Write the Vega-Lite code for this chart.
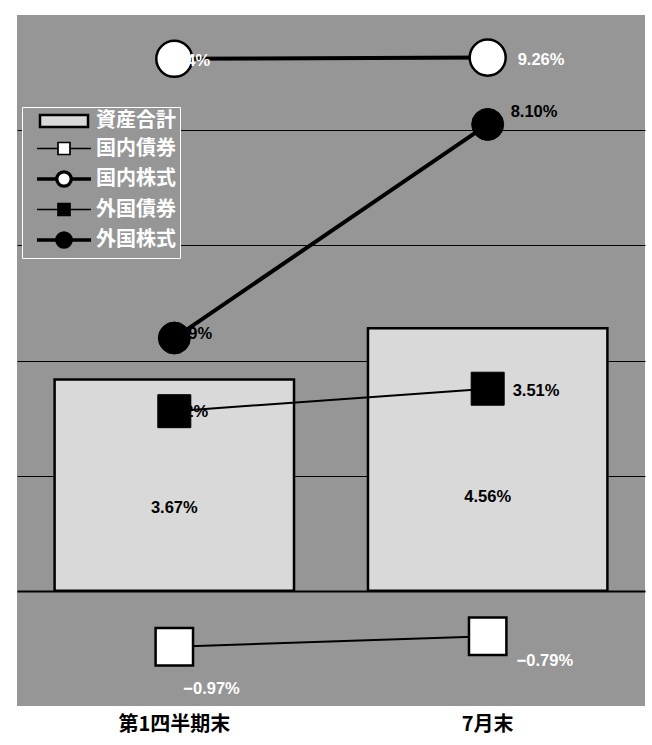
{
  "$schema": "https://vega.github.io/schema/vega-lite/v6.json",
  "width": 628,
  "height": 691,
  "autosize": "none",
  "padding": {"left": 17, "top": 15, "right": 7, "bottom": 39},
  "background": "white",
  "config": {
    "view": {"fill": "#969696", "stroke": null},
    "text": {"font": "Liberation Sans, Arial, sans-serif", "fontSize": 16.5, "fontWeight": "bold", "baseline": "middle", "align": "left"},
    "legend": {
      "orient": "none",
      "legendX": 5,
      "legendY": 92,
      "fillColor": "#969696",
      "strokeColor": "white",
      "padding": 4,
      "symbolSize": 144,
      "symbolOffset": 28,
      "labelOffset": 22,
      "labelFont": "Noto Sans CJK JP",
      "labelFontSize": 20,
      "labelFontWeight": "bold",
      "labelColor": "white",
      "labelLimit": 0,
      "rowPadding": 6.5
    }
  },
  "data": {
    "values": [
      {"cat": "第1四半期末", "series": "資産合計", "value": 3.67, "label": "3.67%"},
      {"cat": "7月末", "series": "資産合計", "value": 4.56, "label": "4.56%"},
      {"cat": "第1四半期末", "series": "国内債券", "value": -0.97, "label": "−0.97%"},
      {"cat": "7月末", "series": "国内債券", "value": -0.79, "label": "−0.79%"},
      {"cat": "第1四半期末", "series": "国内株式", "value": 9.24, "label": "9.24%"},
      {"cat": "7月末", "series": "国内株式", "value": 9.26, "label": "9.26%"},
      {"cat": "第1四半期末", "series": "外国債券", "value": 3.12, "label": "3.12%"},
      {"cat": "7月末", "series": "外国債券", "value": 3.51, "label": "3.51%"},
      {"cat": "第1四半期末", "series": "外国株式", "value": 4.39, "label": "4.39%"},
      {"cat": "7月末", "series": "外国株式", "value": 8.10, "label": "8.10%"}
    ]
  },
  "encoding": {
    "x": {
      "field": "cat",
      "type": "nominal",
      "scale": {"domain": ["第1四半期末", "7月末"], "paddingInner": 0.236, "paddingOuter": 0.12},
      "axis": {"title": null, "domain": false, "ticks": false, "labelAngle": 0, "labelFont": "Noto Sans CJK JP", "labelFontSize": 20, "labelFontWeight": "bold", "labelColor": "black", "labelPadding": 8}
    },
    "y": {
      "field": "value",
      "type": "quantitative",
      "scale": {"domain": [-2, 10], "nice": false},
      "axis": {"title": null, "labels": false, "ticks": false, "domain": false, "values": [0, 2, 4, 6, 8], "grid": true, "gridColor": "black", "gridOpacity": 1, "gridWidth": {"condition": {"test": "datum.value === 0", "value": 2}, "value": 1}}
    }
  },
  "layer": [
    {
      "transform": [{"filter": "datum.series == '資産合計'"}],
      "mark": {"type": "bar", "fill": "#d9d9d9", "stroke": "black", "strokeWidth": 2.5}
    },
    {
      "transform": [{"filter": "datum.series == '国内債券' || datum.series == '外国債券'"}],
      "mark": {"type": "line", "color": "black", "strokeWidth": 2},
      "encoding": {"detail": {"field": "series"}}
    },
    {
      "transform": [{"filter": "datum.series == '国内株式' || datum.series == '外国株式'"}],
      "mark": {"type": "line", "color": "black", "strokeWidth": 4},
      "encoding": {"detail": {"field": "series"}}
    },
    {
      "transform": [{"filter": "datum.series == '国内債券'"}],
      "mark": {"type": "point", "shape": "square", "filled": true, "fill": "white", "stroke": "black", "strokeWidth": 2.5, "size": 1400, "opacity": 1}
    },
    {
      "transform": [{"filter": "datum.series == '国内株式'"}],
      "mark": {"type": "point", "shape": "circle", "filled": true, "fill": "white", "stroke": "black", "strokeWidth": 2.5, "size": 1300, "opacity": 1}
    },
    {
      "transform": [{"filter": "datum.series == '外国債券'"}],
      "mark": {"type": "point", "shape": "square", "filled": true, "fill": "black", "stroke": "black", "strokeWidth": 1, "size": 1089, "opacity": 1}
    },
    {
      "transform": [{"filter": "datum.series == '外国株式'"}],
      "mark": {"type": "point", "shape": "circle", "filled": true, "fill": "black", "stroke": "black", "strokeWidth": 1, "size": 1024, "opacity": 1}
    },
    {
      "transform": [{"filter": "datum.series == '資産合計' && datum.cat == '第1四半期末'"}],
      "mark": {"type": "text", "align": "center", "dy": 128, "color": "black"},
      "encoding": {"text": {"field": "label"}}
    },
    {
      "transform": [{"filter": "datum.series == '資産合計' && datum.cat == '7月末'"}],
      "mark": {"type": "text", "align": "center", "dy": 169, "color": "black"},
      "encoding": {"text": {"field": "label"}}
    },
    {
      "transform": [{"filter": "datum.series == '国内株式' && datum.cat == '第1四半期末'"}],
      "mark": {"type": "text", "dx": -11, "dy": 2, "color": "white"},
      "encoding": {"text": {"field": "label"}}
    },
    {
      "transform": [{"filter": "datum.series == '国内株式' && datum.cat == '7月末'"}],
      "mark": {"type": "text", "dx": 30, "dy": 2, "color": "white"},
      "encoding": {"text": {"field": "label"}}
    },
    {
      "transform": [{"filter": "datum.series == '外国株式' && datum.cat == '第1四半期末'"}],
      "mark": {"type": "text", "dx": -9, "dy": -4, "color": "black"},
      "encoding": {"text": {"field": "label"}}
    },
    {
      "transform": [{"filter": "datum.series == '外国株式' && datum.cat == '7月末'"}],
      "mark": {"type": "text", "dx": 23, "dy": -12, "color": "black"},
      "encoding": {"text": {"field": "label"}}
    },
    {
      "transform": [{"filter": "datum.series == '外国債券' && datum.cat == '第1四半期末'"}],
      "mark": {"type": "text", "dx": -13, "dy": 1, "color": "black"},
      "encoding": {"text": {"field": "label"}}
    },
    {
      "transform": [{"filter": "datum.series == '外国債券' && datum.cat == '7月末'"}],
      "mark": {"type": "text", "dx": 25, "dy": 2, "color": "black"},
      "encoding": {"text": {"field": "label"}}
    },
    {
      "transform": [{"filter": "datum.series == '国内債券' && datum.cat == '第1四半期末'"}],
      "mark": {"type": "text", "dx": 9, "dy": 42, "color": "white"},
      "encoding": {"text": {"field": "label"}}
    },
    {
      "transform": [{"filter": "datum.series == '国内債券' && datum.cat == '7月末'"}],
      "mark": {"type": "text", "dx": 29, "dy": 25, "color": "white"},
      "encoding": {"text": {"field": "label"}}
    },
    {
      "transform": [{"filter": "false"}],
      "mark": {"type": "point", "filled": true, "opacity": 1},
      "encoding": {
        "shape": {
          "field": "series",
          "type": "nominal",
          "title": null,
          "scale": {
            "domain": ["資産合計", "国内債券", "国内株式", "外国債券", "外国株式"],
            "range": [
              "M-4,-1H4V1H-4Z",
              "M-4.5,0H-1M1,0H4.5M-1,-1H1V1H-1Z",
              "M-4.5,0H-1.2M1.2,0H4.5M-1.2,0A1.2,1.2,0,1,1,1.2,0A1.2,1.2,0,1,1,-1.2,0Z",
              "M-4.5,0H-1M1,0H4.5M-1,-1H1V1H-1Z",
              "M-4.5,0H-1.2M1.2,0H4.5M-1.2,0A1.2,1.2,0,1,1,1.2,0A1.2,1.2,0,1,1,-1.2,0Z"
            ]
          }
        },
        "fill": {
          "field": "series",
          "type": "nominal",
          "title": null,
          "scale": {
            "domain": ["資産合計", "国内債券", "国内株式", "外国債券", "外国株式"],
            "range": ["#d9d9d9", "white", "white", "black", "black"]
          }
        },
        "stroke": {
          "field": "series",
          "type": "nominal",
          "title": null,
          "scale": {
            "domain": ["資産合計", "国内債券", "国内株式", "外国債券", "外国株式"],
            "range": ["black", "black", "black", "black", "black"]
          }
        },
        "strokeWidth": {
          "field": "series",
          "type": "nominal",
          "title": null,
          "scale": {
            "type": "ordinal",
            "domain": ["資産合計", "国内債券", "国内株式", "外国債券", "外国株式"],
            "range": [2.5, 1.7, 3.3, 1.7, 3.3]
          }
        }
      }
    }
  ]
}
